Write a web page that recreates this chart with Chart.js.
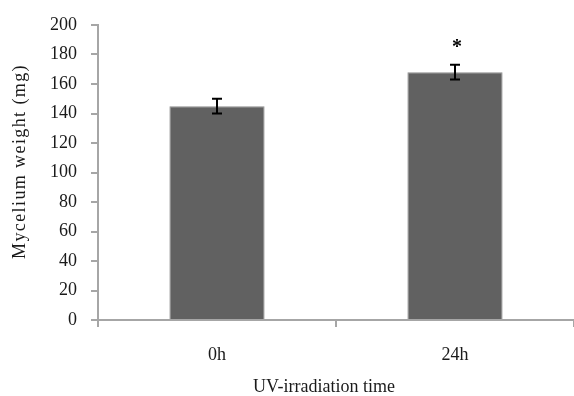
<!DOCTYPE html>
<html>
<head>
<meta charset="utf-8">
<script src="https://cdn.jsdelivr.net/npm/chart.js@4"></script>
<style>
  body { margin: 0; background: #fff; }
</style>
</head>
<body>
<canvas id="myChart" width="574" height="396"></canvas>
<script>
// data
const categories = ["0h", "24h"]
const weights = [145, 168]
const errors = [5, 5]
const marks = ["", "*"]
const yTicks = [0, 20, 40, 60, 80, 100, 120, 140, 160, 180, 200]
const xTitle = "UV-irradiation time"
const yTitle = "Mycelium weight (mg)"

const font = "'Liberation Serif', 'Times New Roman', serif"
const axisGray = "#a6a6a6"
const textColor = "#1a1a1a"

// error bars + significance star
const errorBars = {
   id: "errorBars",
   afterDatasetsDraw(chart) {
      const ctx = chart.ctx
      const y = chart.scales.y
      const meta = chart.getDatasetMeta(0)
      ctx.save()
      ctx.strokeStyle = "#000"
      ctx.lineWidth = 2
      for (let i = 0; i < weights.length; i++) {
         const x = meta.data[i].x
         const top = y.getPixelForValue(weights[i] + errors[i])
         const bot = y.getPixelForValue(weights[i] - errors[i])
         ctx.beginPath()
         ctx.moveTo(x, top); ctx.lineTo(x, bot)
         ctx.moveTo(x - 5, top); ctx.lineTo(x + 5, top)
         ctx.moveTo(x - 5, bot); ctx.lineTo(x + 5, bot)
         ctx.stroke()
         if (marks[i]) {
            ctx.fillStyle = "#000"
            ctx.font = "bold 20px " + font
            ctx.textAlign = "center"
            ctx.textBaseline = "middle"
            ctx.fillText(marks[i], x + 2, top - 17)
         }
      }
      ctx.restore()
   }
}

// axis titles (the original has them spaced out a bit)
const axisTitles = {
   id: "axisTitles",
   afterDraw(chart) {
      const ctx = chart.ctx
      const area = chart.chartArea
      ctx.save()
      ctx.fillStyle = textColor
      ctx.textAlign = "center"
      ctx.textBaseline = "middle"
      ctx.font = "18px " + font
      ctx.fillText(xTitle, area.left + (area.right - area.left) / 2 - 12, 387)
      ctx.translate(20, area.top + (area.bottom - area.top) / 2 - 11)
      ctx.rotate(-Math.PI / 2)
      ctx.letterSpacing = "1.4px"
      ctx.fillText(yTitle, 0, 0)
      ctx.restore()
   }
}

const config = {
   type: "bar",
   data: {
      labels: categories,
      datasets: [{
         data: weights,
         backgroundColor: "#616161",
         borderColor: "#8c8c8c",
         borderWidth: 1,
         categoryPercentage: 0.8,
         barPercentage: 0.5
      }]
   },
   options: {
      responsive: false,
      animation: false,
      layout: { padding: { top: 25, right: 0, left: 0, bottom: 0 } },
      plugins: { legend: { display: false }, tooltip: { enabled: false } },
      scales: {
         x: {
            border: { color: axisGray, width: 2 },
            grid: { display: true, drawOnChartArea: false, color: axisGray, tickLength: 7, lineWidth: 2 },
            ticks: { color: textColor, font: { family: font, size: 18 }, padding: 17 },
            afterFit: (s) => { s.height = 76 }
         },
         y: {
            min: 0,
            max: 200,
            afterBuildTicks: (s) => { s.ticks = yTicks.map(v => ({ value: v })) },
            border: { color: axisGray, width: 2 },
            grid: { display: true, drawOnChartArea: false, color: axisGray, tickLength: 7, lineWidth: 2 },
            ticks: { color: textColor, font: { family: font, size: 18 }, padding: 14 },
            afterFit: (s) => { s.width = 98 }
         }
      }
   },
   plugins: [errorBars, axisTitles]
}

var myChart = new Chart(document.getElementById("myChart"), config)
</script>
</body>
</html>
